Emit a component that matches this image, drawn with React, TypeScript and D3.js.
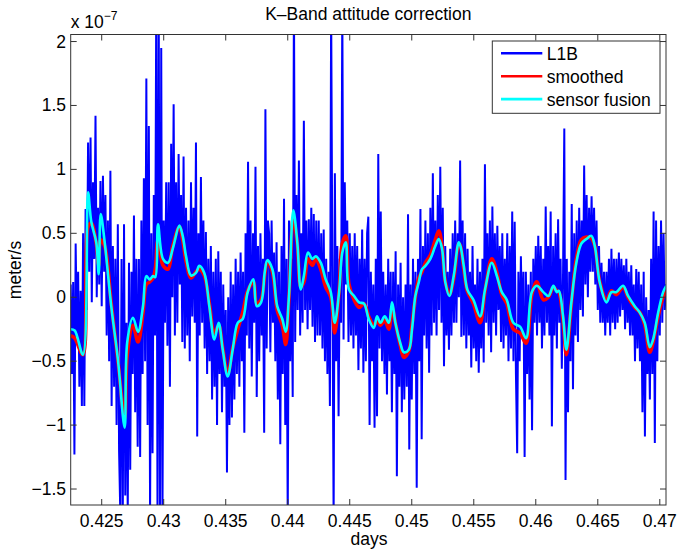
import React from 'react';
import * as d3 from 'd3';

// ---- data (units of 1e-7 m/s, time in days) ----
const l1bStart = 0.4225;
const l1bStep = 0.0001;
const l1bValues = [
  0.1, -0.6, 0.12, -1.23, 0.42, -0.3, 0.2, -0.7, 0.05, -0.85, 0.5, -0.85, 0.69, -0.1, 1.21, 0.2, 1.25, -0.04, 0.9, 0.3,
  1.42, 0.0, 0.7, 0.1, 0.91, -0.07, 0.95, 0.2, 0.8, -0.3, 0.6, -0.5, 0.99, -0.85, 0.4, -0.7, 0.3, -1.0, 0.57, -1.2,
  -1.7, 0.3, -1.7, 0.57, -1.55, -0.2, -1.7, 0.27, -1.35, 0.2, -0.6, 0.64, -0.9, 0.3, -1.17, 0.3, -1.25, 0.6, -0.6, 0.93,
  -0.5, 1.71, -1.0, 1.34, -1.7, 0.5, -1.22, 0.8, -0.3, 2.4, -1.75, 2.2, -1.7, 1.95, -1.7, 0.6, -0.2, 0.9, -0.38, 0.9,
  -0.7, 1.2, 0.0, 1.51, -0.3, 0.9, -0.2, 1.12, 0.1, 0.8, -0.35, 1.1, -0.4, 0.7, -0.3, 0.6, -0.5, 0.9, -0.15, 0.7,
  -0.2, 1.21, -1.09, 0.5, -0.3, 0.94, -0.2, 0.6, -0.4, 0.51, -0.6, 0.3, -0.5, 0.4, -0.8, 0.2, -0.7, 0.3, -1.0, 0.36,
  -0.6, 0.2, -0.9, 0.1, -0.7, -0.1, -1.37, 0.0, -1.0, 0.2, -0.94, 0.1, -0.8, 0.3, -0.6, 0.2, -0.7, 0.35, -0.5, 0.2,
  -1.06, 0.5, -0.3, 1.06, -0.4, 0.6, -0.62, 0.5, -0.2, 1.02, -0.78, 0.4, -0.5, 0.5, -0.3, 0.3, -1.06, 1.47, -0.4, 0.6,
  0.5, -0.43, 0.6, -0.2, 0.35, -0.5, 0.43, -0.8, 0.2, -1.15, 0.4, -0.6, 0.77, -1.0, 0.3, -1.75, 0.6, -0.5, 0.3, -0.78,
  2.4, -0.35, 0.8, -0.1, 1.07, -0.3, 0.5, -0.2, 1.38, -0.1, 0.6, -0.25, 0.61, -0.1, 0.7, -0.23, 0.65, -0.35, 0.6, -0.3,
  0.6, -0.3, 0.5, -0.4, 0.53, -0.5, 0.3, -0.6, 0.2, -0.85, 2.3, 0.2, -1.75, 0.97, -0.5, 0.4, -0.93, 0.3, -0.2, 2.3,
  -0.33, 0.9, 0.1, 0.6, -0.35, 0.5, -0.3, 0.4, -0.4, 0.5, -0.3, 0.4, -0.57, 0.3, -0.4, 0.53, -0.59, 0.3, -0.5, 0.5,
  0.63, -1.0, 0.2, -0.5, 0.1, -1.02, 0.3, -0.93, 1.12, -0.4, 0.67, -0.5, 0.2, -0.6, 0.1, -0.76, 0.3, -0.5, 0.2, -0.9,
  0.2, -0.6, 0.36, -1.4, 0.1, -0.7, 0.27, -0.9, 0.0, -0.8, 0.1, -0.7, 0.65, -1.19, 0.1, -0.8, 0.3, -0.6, 0.2, -1.49,
  0.3, -0.5, 0.69, -1.11, 0.4, -0.3, 0.6, -0.4, 0.5, -0.59, 0.7, -0.3, 0.97, -0.2, 0.6, -0.3, 0.8, -0.1, 1.02, -0.2,
  0.7, -0.54, 0.4, -0.3, 0.2, -0.41, 0.38, -0.3, 0.5, -0.2, 0.6, -0.2, 0.5, 0.0, 1.07, -0.31, 0.6, -0.3, 0.5, -0.4,
  0.38, -0.3, 0.2, -0.55, 0.4, -0.4, 0.1, -0.5, 0.3, -0.59, 0.2, -0.4, 0.3, -0.51, 1.04, -0.2, 0.5, -0.3, 0.6, -0.43,
  0.71, -0.2, 0.5, -0.3, 0.56, -0.1, 0.4, -0.35, 0.5, -0.4, 0.3, -0.3, 0.5, -0.5, 0.4, -0.4, 0.67, -0.5, 0.59, -0.6,
  -1.22, 0.2, -0.5, 0.32, -0.3, 0.2, -1.25, 0.2, -0.6, 0.1, -0.8, 0.2, -1.04, 0.3, -0.2, 0.4, -0.3, 0.48, -0.2, 0.4,
  -0.4, 0.3, -0.3, 0.71, -0.2, 0.4, -0.3, 0.67, -1.01, 0.4, -0.3, 0.5, -0.4, 0.61, -0.2, 0.3, -0.56, 0.2, 1.32, -1.43,
  0.3, -0.9, 0.2, -0.5, 0.73, -0.72, 0.5, -0.3, 0.6, -0.35, 0.7, -0.1, 0.6, -0.15, 1.03, 0.1, 0.8, 0.0, 0.7, 0.2,
  0.79, 0.2, 0.7, 0.1, 0.6, -0.1, 0.4, -0.2, 0.27, -0.2, 0.2, -0.3, 0.2, -0.2, 0.3, -0.3, 0.38, -0.2, 0.3, -0.25,
  0.3, -0.2, 0.35, -0.15, 0.3, -0.1, 0.25, -0.25, 0.3, -0.2, 0.2, -0.3, 0.25, -0.3, 0.1, -0.5, 0.22, -0.4, 0.2, -0.5,
  0.1, -0.9, 0.2, -1.09, 0.0, -0.6, -0.1, -0.8, 0.3, -0.6, 0.67, -1.14, 0.6, -0.5, 0.4, -0.3, 0.6, -0.2, 0.5, -0.1,
  0.1,
];

const curveDays = [
  0.4225, 0.42282, 0.42349, 0.4239, 0.42416, 0.42456, 0.42476, 0.42492, 0.42524, 0.42577,
  0.42631, 0.42685, 0.42706, 0.42752, 0.42793, 0.42833, 0.4286, 0.42887, 0.42914, 0.42932,
  0.42954, 0.42994, 0.43035, 0.43073, 0.43126, 0.43153, 0.4318, 0.4322, 0.4326, 0.43287,
  0.43327, 0.43368, 0.43408, 0.43443, 0.43476, 0.43516, 0.43556, 0.43597, 0.43637, 0.43677,
  0.43723, 0.4375, 0.43785, 0.43815, 0.43835, 0.43876, 0.43915, 0.43956, 0.43984, 0.4401,
  0.44045, 0.44077, 0.44105, 0.44131, 0.44164, 0.44198, 0.44226, 0.44266, 0.44306, 0.44347,
  0.44379, 0.44414, 0.4444, 0.44468, 0.44494, 0.44535, 0.44575, 0.44615, 0.44653, 0.44694,
  0.4472, 0.44747, 0.44782, 0.44815, 0.44841, 0.44868, 0.44908, 0.44936, 0.44976, 0.45002,
  0.45029, 0.45056, 0.45083, 0.4511, 0.4515, 0.4519, 0.45218, 0.45244, 0.45271, 0.45303,
  0.45339, 0.45379, 0.45393, 0.4542, 0.45448, 0.45497, 0.45551, 0.45591, 0.45645, 0.45685,
  0.45726, 0.45766, 0.45819, 0.45873, 0.45922, 0.45968, 0.46008, 0.46061, 0.46102, 0.46142,
  0.46169, 0.46186, 0.4622, 0.46247, 0.46287, 0.46327, 0.46368, 0.46408, 0.46448, 0.46476,
  0.46516, 0.4657, 0.4661, 0.4665, 0.46704, 0.46744, 0.46798, 0.46839, 0.46879, 0.46919,
  0.46946, 0.46987, 0.47027, 0.47053,
];

const fusionValues = [
  -0.25, -0.26, -0.45, 0.82, 0.59, 0.43, 0.18, 0.65, 0.43, -0.07,
  -0.49, -1.02, -0.35, -0.16, -0.27, -0.07, 0.165, 0.14, 0.165, 0.157,
  0.57, 0.3, 0.27, 0.38, 0.56, 0.48, 0.32, 0.17, 0.19, 0.245,
  0.19, -0.07, -0.33, -0.2, -0.41, -0.62, -0.41, -0.2, -0.17, 0.04,
  0.14, -0.07, -0.04, 0.2, 0.29, 0.22, -0.07, -0.17, -0.27, 0.01,
  0.68, 0.43, 0.06, 0.17, 0.35, 0.3, 0.32, 0.27, 0.14, 0.04,
  -0.2, 0.04, 0.35, 0.43, 0.06, 0.01, -0.04, -0.05, -0.17, -0.24,
  -0.15, -0.2, -0.15, -0.2, -0.04, -0.2, -0.36, -0.43, -0.41, -0.25,
  0.01, 0.115, 0.22, 0.245, 0.3, 0.4, 0.455, 0.38, 0.115, 0.01,
  0.17, 0.43, 0.4, 0.24, 0.06, -0.02, -0.15, 0.06, 0.27, 0.17,
  0.04, -0.02, -0.2, -0.23, -0.32, 0.04, 0.09, 0.04, 0.01, 0.09,
  0.04, 0.05, -0.15, -0.41, -0.04, 0.27, 0.42, 0.455, 0.48, 0.4,
  0.115, -0.04, 0.04, 0.04, 0.09, 0.01, -0.07, -0.12, -0.2, -0.39,
  -0.33, -0.12, 0.04, 0.09,
];

const smoothedValues = [
  -0.3, -0.32, -0.45, 0.55, 0.58, 0.42, 0.25, 0.45, 0.4, -0.05,
  -0.5, -0.95, -0.45, -0.22, -0.35, -0.12, 0.1, 0.12, 0.15, 0.22,
  0.45, 0.25, 0.22, 0.4, 0.55, 0.45, 0.28, 0.15, 0.2, 0.22,
  0.17, -0.05, -0.28, -0.22, -0.4, -0.6, -0.4, -0.25, -0.12, 0.05,
  0.12, -0.05, -0.02, 0.18, 0.28, 0.2, -0.1, -0.22, -0.37, 0.0,
  0.62, 0.42, 0.08, 0.12, 0.3, 0.25, 0.3, 0.22, 0.08, 0.0,
  -0.28, 0.05, 0.42, 0.48, 0.1, -0.02, -0.08, -0.05, -0.15, -0.22,
  -0.18, -0.22, -0.18, -0.25, -0.08, -0.2, -0.38, -0.47, -0.42, -0.22,
  0.0, 0.15, 0.2, 0.27, 0.33, 0.45, 0.52, 0.4, 0.12, 0.02,
  0.15, 0.42, 0.4, 0.22, 0.05, -0.05, -0.2, 0.05, 0.3, 0.2,
  0.02, -0.05, -0.25, -0.28, -0.36, 0.02, 0.12, -0.02, 0.0, 0.08,
  0.05, 0.04, -0.18, -0.45, -0.05, 0.3, 0.45, 0.47, 0.46, 0.4,
  0.12, -0.02, 0.05, 0.02, 0.08, 0.0, -0.08, -0.12, -0.22, -0.43,
  -0.35, -0.15, 0.0, 0.05,
];

const xTicks = [0.425, 0.43, 0.435, 0.44, 0.445, 0.45, 0.455, 0.46, 0.465, 0.47];
const xTickLabels = ['0.425', '0.43', '0.435', '0.44', '0.445', '0.45', '0.455', '0.46', '0.465', '0.47'];
const yTicks = [-1.5, -1, -0.5, 0, 0.5, 1, 1.5, 2];
const yTickLabels = ['\u22121.5', '\u22121', '\u22120.5', '0', '0.5', '1', '1.5', '2'];

const legendItems = [
  { label: 'L1B', color: '#0000ff', width: 2.6 },
  { label: 'smoothed', color: '#ff0000', width: 2.6 },
  { label: 'sensor fusion', color: '#00ffff', width: 2.6 },
];

// ---- layout ----
const W = 677;
const H = 553;
const AX = { left: 70.7, right: 666, top: 34.5, bottom: 505 };
const FONT = "'Liberation Sans', Arial, Helvetica, sans-serif";

export default function App() {
  const x = d3.scaleLinear().domain([0.4225, 0.4705]).range([AX.left, AX.right]);
  const y = d3.scaleLinear().domain([-1.625, 2.055]).range([AX.bottom, AX.top]);

  const l1b = l1bValues.map((v, i) => [l1bStart + i * l1bStep, v] as [number, number]);
  const smoothed = curveDays.map((d, i) => [d, smoothedValues[i]] as [number, number]);
  const fusion = curveDays.map((d, i) => [d, fusionValues[i]] as [number, number]);

  const line = d3
    .line<[number, number]>()
    .x((d) => x(d[0]))
    .y((d) => y(d[1]));

  const smoothLine = d3
    .line<[number, number]>()
    .x((d) => x(d[0]))
    .y((d) => y(d[1]))
    .curve(d3.curveCatmullRom.alpha(0.5));

  const axisColor = '#333';
  const tickLen = 6;
  const fs = 17.5;

  const lg = { x: 492.3, y: 41, w: 167.7, h: 72.3 };

  return (
    <svg
      width={W}
      height={H}
      style={{ position: 'absolute', left: 0, top: 0, background: '#fff' }}
      fontFamily={FONT}
    >
      <rect x={0} y={0} width={W} height={H} fill="#fff" />
      <defs>
        <clipPath id="plotclip">
          <rect x={AX.left} y={AX.top} width={AX.right - AX.left} height={AX.bottom - AX.top} />
        </clipPath>
      </defs>

      <g clipPath="url(#plotclip)">
        <path d={line(l1b) || ''} fill="none" stroke="#0000ff" strokeWidth={2} strokeLinejoin="miter" strokeMiterlimit={2} />
        <path d={smoothLine(smoothed) || ''} fill="none" stroke="#ff0000" strokeWidth={3.6} strokeLinejoin="round" />
        <path d={smoothLine(fusion) || ''} fill="none" stroke="#00ffff" strokeWidth={2.6} strokeLinejoin="round" />
      </g>

      {/* axes box */}
      <rect
        x={AX.left}
        y={AX.top}
        width={AX.right - AX.left}
        height={AX.bottom - AX.top}
        fill="none"
        stroke={axisColor}
        strokeWidth={1}
      />

      {/* x ticks */}
      {xTicks.map((t, i) => (
        <g key={'xt' + i}>
          <line x1={x(t)} x2={x(t)} y1={AX.bottom} y2={AX.bottom - tickLen} stroke={axisColor} />
          <line x1={x(t)} x2={x(t)} y1={AX.top} y2={AX.top + tickLen} stroke={axisColor} />
          <text x={x(t)} y={527} fontSize={fs} textAnchor="middle" fill="#000">
            {xTickLabels[i]}
          </text>
        </g>
      ))}

      {/* y ticks */}
      {yTicks.map((t, i) => (
        <g key={'yt' + i}>
          <line x1={AX.left} x2={AX.left + tickLen} y1={y(t)} y2={y(t)} stroke={axisColor} />
          <line x1={AX.right} x2={AX.right - tickLen} y1={y(t)} y2={y(t)} stroke={axisColor} />
          <text x={66} y={y(t) + 6} fontSize={fs} textAnchor="end" fill="#000">
            {yTickLabels[i]}
          </text>
        </g>
      ))}

      {/* exponent label */}
      <text x={70.7} y={27.5} fontSize={fs} fill="#000">
        x 10
        <tspan fontSize={12} dy={-8}>
          {'\u22127'}
        </tspan>
      </text>

      {/* title */}
      <text x={368.3} y={19.5} fontSize={fs} textAnchor="middle" fill="#000">
        K{'\u2013'}Band attitude correction
      </text>

      {/* axis labels */}
      <text x={369} y={545} fontSize={fs} textAnchor="middle" fill="#000">
        days
      </text>
      <text
        transform={`translate(21,270) rotate(-90)`}
        fontSize={fs}
        textAnchor="middle"
        fill="#000"
      >
        meter/s
      </text>

      {/* legend */}
      <rect x={lg.x} y={lg.y} width={lg.w} height={lg.h} fill="#fff" stroke={axisColor} strokeWidth={1} />
      {legendItems.map((it, i) => {
        const cy = 53.3 + i * 22.9;
        return (
          <g key={'lg' + i}>
            <line x1={501} x2={542.3} y1={cy} y2={cy} stroke={it.color} strokeWidth={it.width} />
            <text x={546.7} y={cy + 6.8} fontSize={fs} fill="#000">
              {it.label}
            </text>
          </g>
        );
      })}
    </svg>
  );
}
